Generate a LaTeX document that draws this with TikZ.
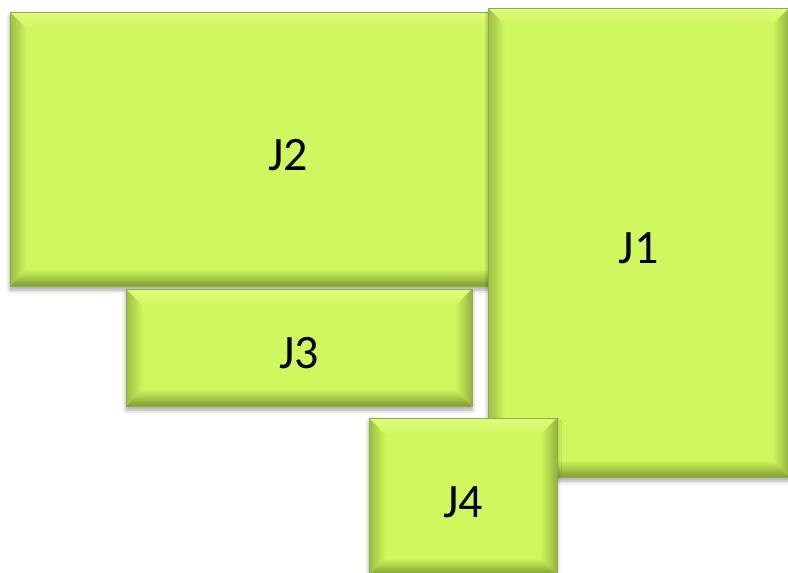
\documentclass[tikz,border=0pt]{standalone}
\usepackage{fontspec}
\setmainfont{Carlito}
\usetikzlibrary{shadows.blur}
\definecolor{jobc}{RGB}{207,248,94}
\definecolor{jobtop}{RGB}{252,252,170}
\definecolor{jobbot}{RGB}{128,158,52}
\definecolor{jobrim}{RGB}{145,170,75}

\begin{document}
\begin{tikzpicture}[x=1pt,y=-1pt]
\tikzstyle{job}=[draw=jobrim,line width=0.6pt,fill=jobc,inner sep=0pt,
  font=\fontsize{48}{52}\selectfont,text height=42pt,text depth=0pt,
  blur shadow={shadow xshift=0pt,shadow yshift=-4pt,shadow blur radius=4pt,shadow opacity=35},
  path picture={
    \coordinate (pnw) at (path picture bounding box.north west);
    \coordinate (pne) at (path picture bounding box.north east);
    \coordinate (psw) at (path picture bounding box.south west);
    \coordinate (pse) at (path picture bounding box.south east);
    % bevel, about 17pt wide
    \shade[top color=jobc!60!jobtop,middle color=jobtop,bottom color=jobc]
      (pnw) -- (pne) -- ([shift={(-17pt,-17pt)}]pne) -- ([shift={(17pt,-17pt)}]pnw) -- cycle;
    \shade[left color=jobbot!65!jobc,right color=jobc]
      (pnw) -- ([shift={(17pt,-17pt)}]pnw) -- ([shift={(17pt,17pt)}]psw) -- (psw) -- cycle;
    \shade[left color=jobc,right color=jobbot!75!jobc]
      (pne) -- ([shift={(-17pt,-17pt)}]pne) -- ([shift={(-17pt,17pt)}]pse) -- (pse) -- cycle;
    \shade[top color=jobc,bottom color=jobbot]
      (psw) -- ([shift={(17pt,17pt)}]psw) -- ([shift={(-17pt,17pt)}]pse) -- (pse) -- cycle;
  }]
\useasboundingbox (0,0) rectangle (788,573);
\node[job,minimum width=556pt,minimum height=274pt] (j2) at (288,149) {J2};
\node[job,minimum width=346pt,minimum height=117pt] (j3) at (299,347.5) {J3};
\node[job,minimum width=301pt,minimum height=469pt] (j1) at (638.5,242.5) {J1};
\node[job,minimum width=188pt,minimum height=157pt] (j4) at (463,496.5) {J4};
\end{tikzpicture}
\end{document}
